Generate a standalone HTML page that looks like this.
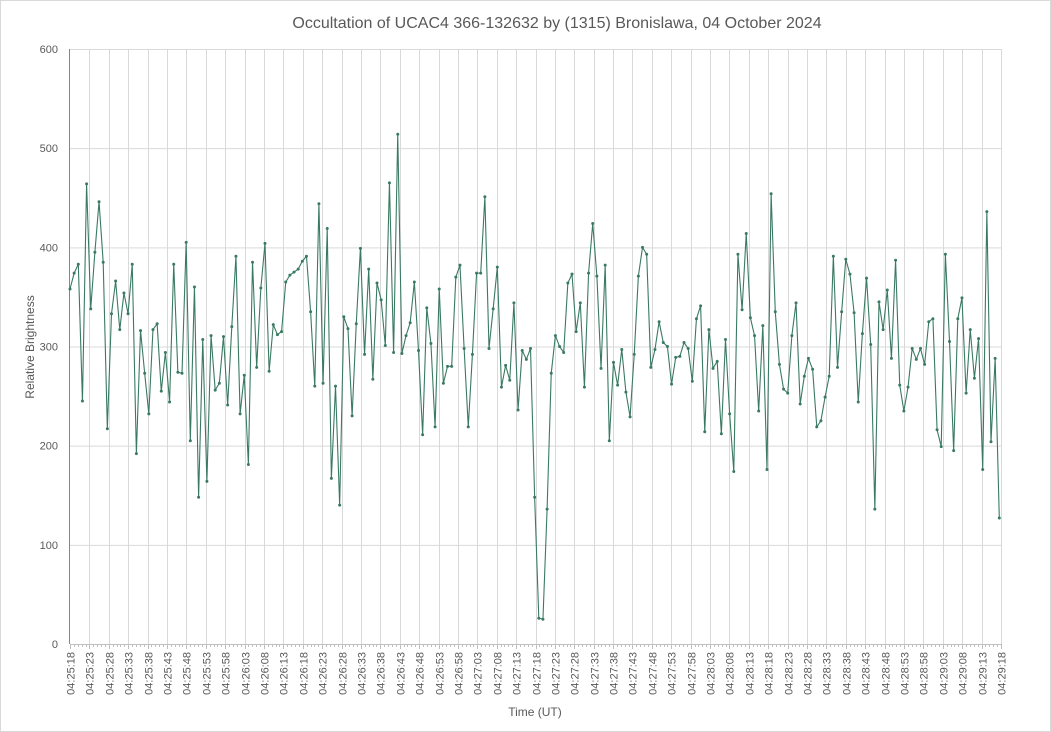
<!DOCTYPE html>
<html><head><meta charset="utf-8"><style>
body{margin:0;background:#fff;}
svg{display:block;font-family:"Liberation Sans",sans-serif;}
</style></head><body>
<svg id="chart" width="1051" height="732">
<rect x="0.5" y="0.5" width="1050" height="731" fill="#fff" stroke="#d9d9d9"/>
<text x="557" y="28" text-anchor="middle" font-size="16" fill="#595959">Occultation of UCAC4 366-132632 by (1315) Bronislawa, 04 October 2024</text>
<text transform="translate(34,347) rotate(-90)" text-anchor="middle" font-size="12" fill="#595959">Relative Brightness</text>
<text x="535" y="716" text-anchor="middle" font-size="12" fill="#595959">Time (UT)</text>
<g id="grid"></g><g id="axes"></g><g id="series"></g>
</svg>
<script>
const values = [358,374,383,245,464,338,395,446,385,217,333,366,317,354,333,383,192,316,273,232,317,323,255,294,244,383,274,273,405,
205,360,148,307,164,311,256,263,310,241,320,391,232,271,181,385,279,359,404,275,322,312,315,365,372,375,378,386,391,335,
260,444,263,419,167,260,140,330,318,230,323,399,292,378,267,364,347,301,465,294,514,293,311,324,365,296,211,339,
303,219,358,263,280,280,370,382,298,219,292,374,374,451,298,338,380,259,281,266,344,236,296,287,298,148,26,25,
136,273,311,300,294,364,373,315,344,259,374,424,371,278,382,205,284,261,297,254,229,292,371,400,393,279,297,325,304,300,
262,289,290,304,298,265,328,341,214,317,278,285,212,307,232,174,393,337,414,329,311,235,321,176,454,335,282,257,253,
311,344,242,270,288,277,219,225,249,270,391,279,335,388,373,334,244,313,369,302,136,345,317,357,288,387,261,235,259,
298,287,298,282,325,328,216,199,393,305,195,328,349,253,317,268,308,176,436,204,288,127];
const yTicks = [0,100,200,300,400,500,600];
const startSec = 4*3600+25*60+18;
const totalSec = 240;
const labelStep = 5;

const NS="http://www.w3.org/2000/svg";
const X0=70,X1=1001,Y0=644,Y1=49;
const ys=v=>Y0-(v/600)*(Y0-Y1);
const xt=s=>X0+(s/totalSec)*(X1-X0);
const xi=i=>X0+i*(999.3-X0)/(values.length-1);
function mk(tag,attrs,parent){const e=document.createElementNS(NS,tag);for(const k in attrs)e.setAttribute(k,attrs[k]);parent.appendChild(e);return e;}
const grid=document.getElementById('grid'),axes=document.getElementById('axes'),series=document.getElementById('series');
const fmt=s=>{const h=Math.floor(s/3600),m=Math.floor(s%3600/60),ss=s%60;return [h,m,ss].map(n=>String(n).padStart(2,'0')).join(':');};
yTicks.forEach(t=>{
  const l=mk('line',{x1:X0,x2:X1,y1:ys(t)+0.5,y2:ys(t)+0.5,stroke:'#d9d9d9','stroke-width':1},grid);
  
  
  const tx=mk('text',{x:58,y:ys(t)+4,'text-anchor':'end','font-size':11,fill:'#595959'},axes);
  tx.textContent=t;
  
  
});
for(let s=0;s<=totalSec;s++){
  const x=Math.round(xt(s))+0.5;
  const tk=mk('line',{x1:x,x2:x,y1:Y0,y2:Y0+(s%labelStep===0?5:3),stroke:'#bfbfbf'},axes);
  
  
  if(s%labelStep===0){
    if(s>0){const g=mk('line',{x1:x,x2:x,y1:Y1,y2:Y0,stroke:'#d9d9d9'},grid);
    
    }
    const t=mk('text',{transform:`translate(${x+4},652) rotate(-90)`,'text-anchor':'end','font-size':11,fill:'#595959'},axes);
    t.textContent=fmt(startSec+s);
    
    
  }
}
const xa=mk('line',{x1:X0,x2:X1,y1:Y0+0.5,y2:Y0+0.5,stroke:'#bfbfbf'},axes);


const ya=mk('line',{x1:X0-0.5,x2:X0-0.5,y1:Y1,y2:Y0,stroke:'#5b8fc7'},axes);


const pts=values.map((v,i)=>xi(i).toFixed(2)+','+ys(v).toFixed(2)).join(' ');
const pl=mk('polyline',{points:pts,fill:'none',stroke:'#3a7a62','stroke-width':1.1},series);


values.forEach((v,i)=>{
  const c=mk('circle',{cx:xi(i),cy:ys(v),r:1.5,fill:'#3a7a62'},series);
  
  
});
</script>
</body></html>
